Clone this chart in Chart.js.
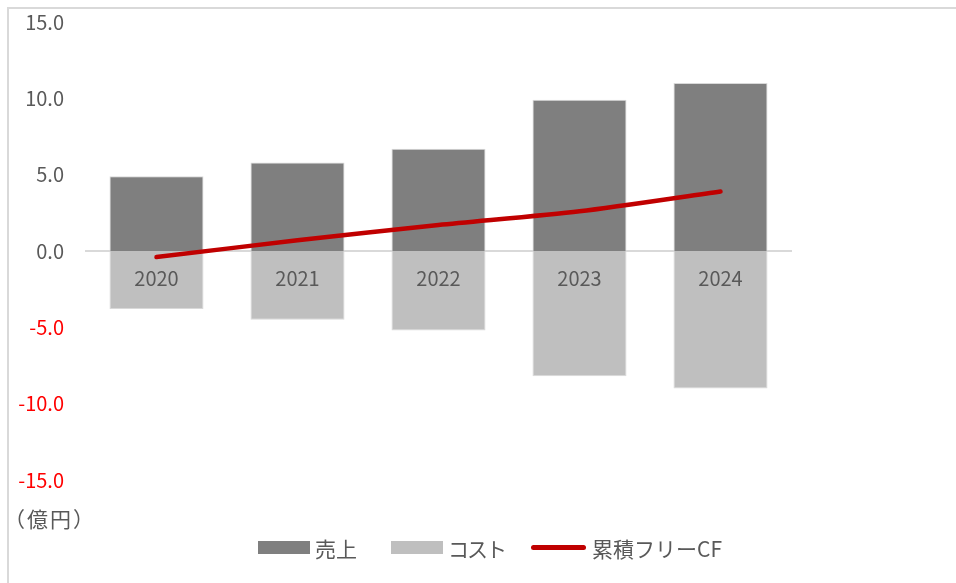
<!DOCTYPE html>
<html lang="ja">
<head>
<meta charset="utf-8">
<script src="https://cdn.jsdelivr.net/npm/chart.js@4/dist/chart.umd.min.js"></script>
<style>
  html, body { margin: 0; padding: 0; background: #fff; }
  #wrap { position: relative; width: 956px; height: 583px; overflow: hidden;
          font-family: "Noto Sans CJK JP", "Noto Sans", sans-serif; color: #595959; }
  #frame { position: absolute; left: 7px; top: 7px; width: 1000px; height: 1000px;
           border-left: 2px solid #d9d9d9; border-top: 2px solid #d9d9d9; }
  canvas { position: absolute; left: 0; top: 0; }
  .unit { position: absolute; left: 4px; top: 503px; font-size: 21px; line-height: 30px; letter-spacing: 2px; }
  .lg { position: absolute; top: 533px; height: 30px; line-height: 30px; font-size: 21px; }
  .sw { position: absolute; }
</style>
</head>
<body>
<div id="wrap">
  <div id="frame"></div>
  <canvas id="cfChart" width="956" height="583"></canvas>
  <div class="unit">（億円）</div>
  <div class="sw" style="left:258px; top:541px; width:52px; height:13px; background:#7f7f7f;"></div>
  <div class="lg" style="left:315px;">売上</div>
  <div class="sw" style="left:391px; top:541px; width:52px; height:13px; background:#bfbfbf;"></div>
  <div class="lg" style="left:448px; letter-spacing:-2px;">コスト</div>
  <div class="sw" style="left:531px; top:545px; width:55px; height:5px; border-radius:2.5px; background:#c00000;"></div>
  <div class="lg" style="left:592px;">累積フリーCF</div>
</div>
<script>
// ---- data (億円) ----
const years = ['2020', '2021', '2022', '2023', '2024'];
const sales = [4.9, 5.8, 6.7, 9.9, 11.0];
const costs = [-3.8, -4.5, -5.2, -8.2, -9.0];
const cumulativeFreeCF = [-0.4, 0.7, 1.7, 2.6, 3.9];

const yMin = -15;
const yMax = 15;
const yStep = 5;

const fontFamily = '"Noto Sans CJK JP", "Noto Sans", sans-serif';
const textGray = '#595959';

const ctx = document.getElementById('cfChart').getContext('2d');

new Chart(ctx, {
    type: 'bar',
    data: {
        labels: years,
        datasets: [
            {
                label: '売上',
                data: sales,
                backgroundColor: '#7f7f7f',
                borderColor: '#d9d9d9',
                borderWidth: 1,
                stack: 'pl',
                order: 1
            },
            {
                label: 'コスト',
                data: costs,
                backgroundColor: '#bfbfbf',
                borderColor: '#d9d9d9',
                borderWidth: 1,
                stack: 'pl',
                order: 1
            },
            {
                type: 'line',
                label: '累積フリーCF',
                data: cumulativeFreeCF,
                borderColor: '#c00000',
                backgroundColor: '#c00000',
                borderWidth: 4.5,
                borderCapStyle: 'round',
                pointRadius: 0,
                tension: 0.25,
                stack: 'cf',
                order: 0
            }
        ]
    },
    options: {
        responsive: false,
        animation: false,
        layout: {
            padding: { left: 0, top: 22, right: 165, bottom: 103 }
        },
        datasets: {
            bar: { categoryPercentage: 1.0, barPercentage: 0.667 }
        },
        plugins: {
            legend: { display: false },
            tooltip: { enabled: false }
        },
        scales: {
            x: {
                stacked: true,
                position: { y: 0 },
                // axis sits on the zero line, so it should not take layout space
                afterFit: (scale) => {
                    scale.height = 0;
                    scale.paddingTop = 0;
                    scale.paddingBottom = 0;
                },
                grid: { display: false, drawTicks: false },
                border: { display: true, color: '#d9d9d9', width: 2 },
                ticks: {
                    z: 1,
                    color: textGray,
                    padding: 15.5,
                    font: { family: fontFamily, size: 20 }
                }
            },
            y: {
                stacked: true,
                min: yMin,
                max: yMax,
                afterFit: (scale) => {
                    scale.width = 86;
                    scale.paddingTop = 0;
                    scale.paddingBottom = 0;
                },
                grid: { display: false, drawTicks: false },
                border: { display: false },
                ticks: {
                    stepSize: yStep,
                    padding: 22,
                    font: { family: fontFamily, size: 20 },
                    color: (c) => (c.tick && c.tick.value < 0 ? '#ff0000' : textGray),
                    callback: (v) => Number(v).toFixed(1)
                }
            }
        }
    }
});
</script>
</body>
</html>
